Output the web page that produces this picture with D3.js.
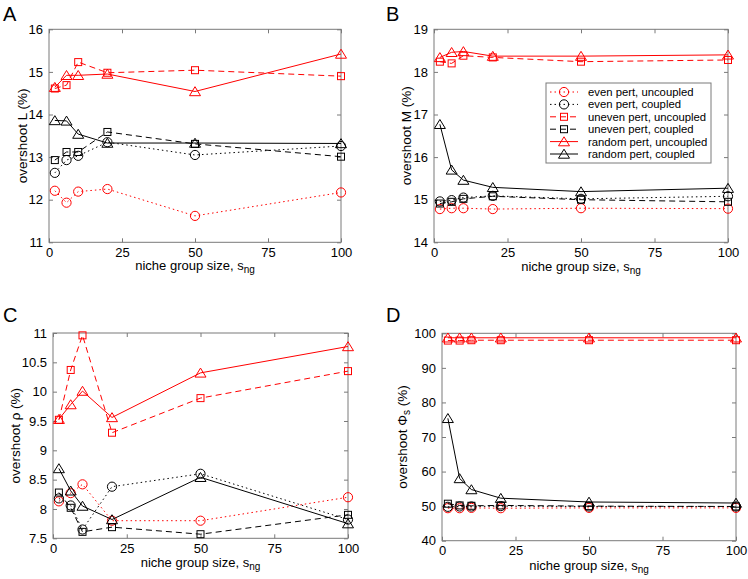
<!DOCTYPE html>
<html><head><meta charset="utf-8">
<script src="https://cdn.jsdelivr.net/npm/d3@7"></script>
<style>body{margin:0;background:#fff}svg{display:block}text{font-family:"Liberation Sans",Arial,sans-serif}</style>
</head><body><svg id="c" width="748" height="579"></svg>
<script>
const sizes = [2, 6, 10, 20, 50, 100];
const xTicks = [0, 25, 50, 75, 100];
const seriesNames = ["even pert, uncoupled","even pert, coupled","uneven pert, uncoupled","uneven pert, coupled","random pert, uncoupled","random pert, coupled"];

const A_evenUnc = [12.21, 11.93, 12.19, 12.25, 11.62, 12.17];
const A_evenCou = [12.63, 12.93, 13.03, 13.35, 13.05, 13.26];
const A_unevUnc = [14.61, 14.69, 15.23, 14.98, 15.04, 14.90];
const A_unevCou = [12.93, 13.12, 13.12, 13.59, 13.31, 13.01];
const A_randUnc = [14.64, 14.92, 14.92, 14.95, 14.54, 15.42];
const A_randCou = [13.86, 13.85, 13.54, 13.33, 13.33, 13.32];

const B_evenUnc = [14.78, 14.80, 14.80, 14.78, 14.80, 14.79];
const B_evenCou = [14.96, 14.99, 15.05, 15.09, 15.02, 15.08];
const B_unevUnc = [18.24, 18.20, 18.38, 18.34, 18.24, 18.28];
const B_unevCou = [14.91, 14.95, 15.02, 15.08, 15.00, 14.95];
const B_randUnc = [18.34, 18.46, 18.48, 18.37, 18.37, 18.40];
const B_randCou = [16.77, 15.70, 15.46, 15.29, 15.19, 15.27];

const C_evenUnc = [8.13, 8.27, 8.42, 7.80, 7.80, 8.20];
const C_evenCou = [8.18, 8.06, 7.65, 8.38, 8.60, 7.82];
const C_unevUnc = [9.52, 10.37, 10.96, 9.30, 9.89, 10.35];
const C_unevCou = [8.28, 8.02, 7.61, 7.69, 7.57, 7.90];
const C_randUnc = [9.53, 9.78, 10.01, 9.56, 10.32, 10.77];
const C_randCou = [8.69, 8.31, 8.05, 7.82, 8.54, 7.75];

const D_evenUnc = [49.4, 49.4, 49.5, 49.4, 49.5, 49.5];
const D_evenCou = [49.8, 49.9, 49.9, 50.0, 49.9, 49.9];
const D_unevUnc = [97.9, 97.9, 98.0, 98.0, 98.0, 98.0];
const D_unevCou = [50.7, 50.2, 50.1, 50.2, 50.0, 49.9];
const D_randUnc = [98.7, 98.7, 98.7, 98.7, 98.7, 98.7];
const D_randCou = [75.4, 58.0, 54.8, 52.3, 51.2, 50.9];

const A_yTicks = [11, 12, 13, 14, 15, 16];
const B_yTicks = [14, 15, 16, 17, 18, 19];
const C_yTicks = [7.5, 8, 8.5, 9, 9.5, 10, 10.5, 11];
const D_yTicks = [40, 50, 60, 70, 80, 90, 100];

const styles = [
  {color:"#ff0000", dash:"1.5,3", marker:"circle"},
  {color:"#000000", dash:"1.5,3", marker:"circle"},
  {color:"#ff0000", dash:"6,4", marker:"square"},
  {color:"#000000", dash:"6,4", marker:"square"},
  {color:"#ff0000", dash:null, marker:"triangle"},
  {color:"#000000", dash:null, marker:"triangle"}
];

const svg = d3.select("#c");
const BOX = "#7a7a7a";

function marker(g, type, x, y, color){
  if(type==="circle") g.append("circle").attr("cx",x).attr("cy",y).attr("r",4.6).attr("fill","none").attr("stroke",color).attr("stroke-width",1);
  else if(type==="square") g.append("rect").attr("x",x-3.5).attr("y",y-3.5).attr("width",7).attr("height",7).attr("fill","none").attr("stroke",color).attr("stroke-width",1);
  else g.append("path").attr("d",`M${x},${y-4.8}L${x+5.5},${y+4.2}L${x-5.5},${y+4.2}Z`).attr("fill","none").attr("stroke",color).attr("stroke-width",1);
}

function panel(p){
  const x = d3.scaleLinear().domain([0,100]).range([p.l, p.r]);
  const y = d3.scaleLinear().domain(p.yd).range([p.b, p.t]);
  const g = svg.append("g");
  g.append("rect").attr("x",p.l).attr("y",p.t).attr("width",p.r-p.l).attr("height",p.b-p.t).attr("fill","none").attr("stroke",BOX).attr("stroke-width",1);
  const ax = [
    [d3.axisBottom(x).tickValues(xTicks).tickSize(-4).tickPadding(5).tickFormat(d3.format("d")), `translate(0,${p.b})`],
    [d3.axisTop(x).tickValues(xTicks).tickSize(-4).tickFormat(""), `translate(0,${p.t})`],
    [d3.axisLeft(y).tickValues(p.yt).tickSize(-4).tickPadding(6).tickFormat(d=>String(d)), `translate(${p.l},0)`],
    [d3.axisRight(y).tickValues(p.yt).tickSize(-4).tickFormat(""), `translate(${p.r},0)`]
  ];
  ax.forEach(([a,tr])=>{
    const ag = g.append("g").attr("transform",tr).call(a);
    ag.select(".domain").remove();
    ag.selectAll("line").attr("stroke",BOX);
    ag.selectAll("text").attr("font-size",13).attr("fill","#000").attr("font-family",'"Liberation Sans",Arial,sans-serif');
  });
  p.data.forEach((vals,i)=>{
    const s = styles[i];
    const line = d3.line().x((d,j)=>x(sizes[j])).y(d=>y(d));
    g.append("path").datum(vals).attr("d",line).attr("fill","none").attr("stroke",s.color).attr("stroke-width",1).attr("stroke-dasharray",s.dash);
    vals.forEach((v,j)=>marker(g, s.marker, x(sizes[j]), y(v), s.color));
  });
  const xl = g.append("text").attr("x",(p.l+p.r)/2).attr("y",p.xlY).attr("text-anchor","middle").attr("font-size",13);
  xl.append("tspan").text("niche group size, s");
  xl.append("tspan").attr("font-size",10).attr("dy",3).text("ng");
  const yl = g.append("text").attr("transform",`translate(${p.ylX},${(p.t+p.b)/2}) rotate(-90)`).attr("text-anchor","middle").attr("font-size",13.5);
  yl.append("tspan").text(p.ylab);
  if(p.ysub){ yl.append("tspan").attr("font-size",10).attr("dy",3).text(p.ysub); yl.append("tspan").attr("dy",-3).text(" (%)"); }
  svg.append("text").attr("x",p.lx).attr("y",p.ly).attr("font-size",20).text(p.letter);
}

panel({l:49,r:341,t:29.3,b:242.3,yd:[11,16],yt:A_yTicks,data:[A_evenUnc,A_evenCou,A_unevUnc,A_unevCou,A_randUnc,A_randCou],xlY:270,ylX:27,ylab:"overshoot L (%)",letter:"A",lx:3,ly:21});
panel({l:434,r:728,t:29.3,b:242.3,yd:[14,19],yt:B_yTicks,data:[B_evenUnc,B_evenCou,B_unevUnc,B_unevCou,B_randUnc,B_randCou],xlY:271,ylX:411,ylab:"overshoot M (%)",letter:"B",lx:386,ly:21});
panel({l:53,r:348,t:333,b:538.3,yd:[7.5,11],yt:C_yTicks,data:[C_evenUnc,C_evenCou,C_unevUnc,C_unevCou,C_randUnc,C_randCou],xlY:567,ylX:20,ylab:"overshoot ρ (%)",letter:"C",lx:3,ly:322});
panel({l:442,r:736,t:333.3,b:540.7,yd:[40,100],yt:D_yTicks,data:[D_evenUnc,D_evenCou,D_unevUnc,D_unevCou,D_randUnc,D_randCou],xlY:570,ylX:407,ylab:"overshoot Φ",ysub:"s",letter:"D",lx:386,ly:322});

const lg = svg.append("g");
lg.append("rect").attr("x",546).attr("y",83).attr("width",165).attr("height",80).attr("fill","#fff").attr("stroke",BOX).attr("stroke-width",1);
seriesNames.forEach((name,i)=>{
  const s = styles[i];
  const yy = 92 + i*12.4;
  lg.append("line").attr("x1",550).attr("x2",578).attr("y1",yy).attr("y2",yy).attr("stroke",s.color).attr("stroke-width",1).attr("stroke-dasharray",s.dash);
  marker(lg, s.marker, 564, yy, s.color);
  lg.append("text").attr("x",588).attr("y",yy+4).attr("font-size",11.3).text(name);
});
</script></body></html>
